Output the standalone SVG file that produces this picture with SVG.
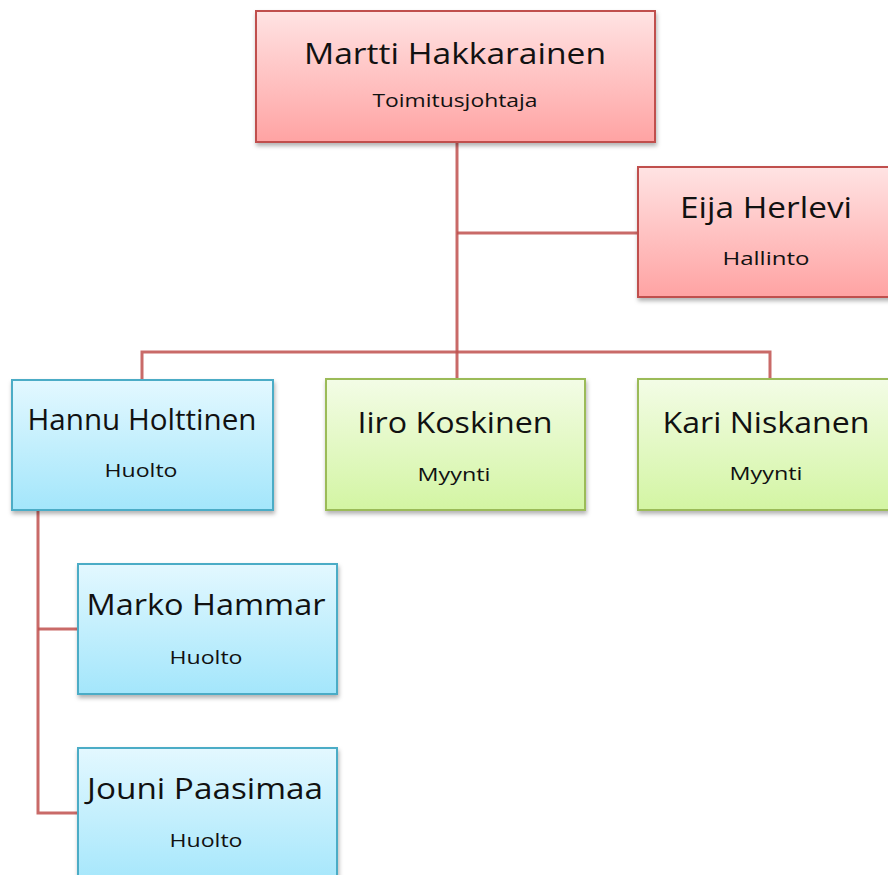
<svg xmlns="http://www.w3.org/2000/svg" width="888" height="875" viewBox="0 0 888 875">
<defs>
<linearGradient id="gRed" x1="0" y1="0" x2="0" y2="1"><stop offset="0" stop-color="#ffe3e3"/><stop offset="1" stop-color="#ffa3a3"/></linearGradient>
<linearGradient id="gBlue" x1="0" y1="0" x2="0" y2="1"><stop offset="0" stop-color="#e3f8ff"/><stop offset="1" stop-color="#a3e6fb"/></linearGradient>
<linearGradient id="gGreen" x1="0" y1="0" x2="0" y2="1"><stop offset="0" stop-color="#f3fce6"/><stop offset="1" stop-color="#d3f5a3"/></linearGradient>
<filter id="sh" x="-10%" y="-10%" width="130%" height="130%"><feDropShadow dx="1" dy="3" stdDeviation="2" flood-color="#000" flood-opacity="0.3"/></filter>
</defs>
<style>
.red{fill:url(#gRed);stroke:#c0504d;stroke-width:2;filter:url(#sh)}
.blue{fill:url(#gBlue);stroke:#4bacc6;stroke-width:2;filter:url(#sh)}
.green{fill:url(#gGreen);stroke:#9bbb59;stroke-width:2;filter:url(#sh)}
.name{font-family:"Open Sans","Noto Sans",sans-serif;font-size:30px;fill:#111;text-anchor:middle}
.sub{font-family:"Open Sans","Noto Sans",sans-serif;font-size:19px;fill:#111;text-anchor:middle}
.conn{fill:none;stroke:#c0504d;stroke-width:3;stroke-opacity:0.85}
</style>
<rect width="888" height="875" fill="#fff"/>
<g id="connectors">
<path class="conn" d="M457 142 V379"/>
<path class="conn" d="M457 233 H638"/>
<path class="conn" d="M142 379 V352 H770 V379"/>
<path class="conn" d="M38 510 V813 H78"/>
<path class="conn" d="M38 629 H78"/>
</g>
<g id="martti">
<rect class="red" x="256" y="11" width="399" height="131"/>
<text class="name" x="455" y="64" textLength="302" lengthAdjust="spacingAndGlyphs">Martti Hakkarainen</text>
<text class="sub" x="455" y="107" textLength="165" lengthAdjust="spacingAndGlyphs">Toimitusjohtaja</text>
</g>
<g id="eija">
<rect class="red" x="638" y="167" width="258" height="130"/>
<text class="name" x="766" y="218" textLength="172" lengthAdjust="spacingAndGlyphs">Eija Herlevi</text>
<text class="sub" x="766" y="265" textLength="87" lengthAdjust="spacingAndGlyphs">Hallinto</text>
</g>
<g id="hannu">
<rect class="blue" x="12" y="380" width="261" height="130"/>
<text class="name" x="142" y="430" textLength="229" lengthAdjust="spacingAndGlyphs">Hannu Holttinen</text>
<text class="sub" x="141" y="477" textLength="73" lengthAdjust="spacingAndGlyphs">Huolto</text>
</g>
<g id="iiro">
<rect class="green" x="326" y="379" width="259" height="131"/>
<text class="name" x="455" y="433" textLength="195" lengthAdjust="spacingAndGlyphs">Iiro Koskinen</text>
<text class="sub" x="454" y="481" textLength="73" lengthAdjust="spacingAndGlyphs">Myynti</text>
</g>
<g id="kari">
<rect class="green" x="638" y="379" width="258" height="131"/>
<text class="name" x="766" y="433" textLength="207" lengthAdjust="spacingAndGlyphs">Kari Niskanen</text>
<text class="sub" x="766" y="480" textLength="73" lengthAdjust="spacingAndGlyphs">Myynti</text>
</g>
<g id="marko">
<rect class="blue" x="78" y="564" width="259" height="130"/>
<text class="name" x="206" y="615" textLength="239" lengthAdjust="spacingAndGlyphs">Marko Hammar</text>
<text class="sub" x="206" y="664" textLength="73" lengthAdjust="spacingAndGlyphs">Huolto</text>
</g>
<g id="jouni">
<rect class="blue" x="78" y="748" width="259" height="140"/>
<text class="name" x="205" y="799" textLength="236" lengthAdjust="spacingAndGlyphs">Jouni Paasimaa</text>
<text class="sub" x="206" y="847" textLength="73" lengthAdjust="spacingAndGlyphs">Huolto</text>
</g>
</svg>
